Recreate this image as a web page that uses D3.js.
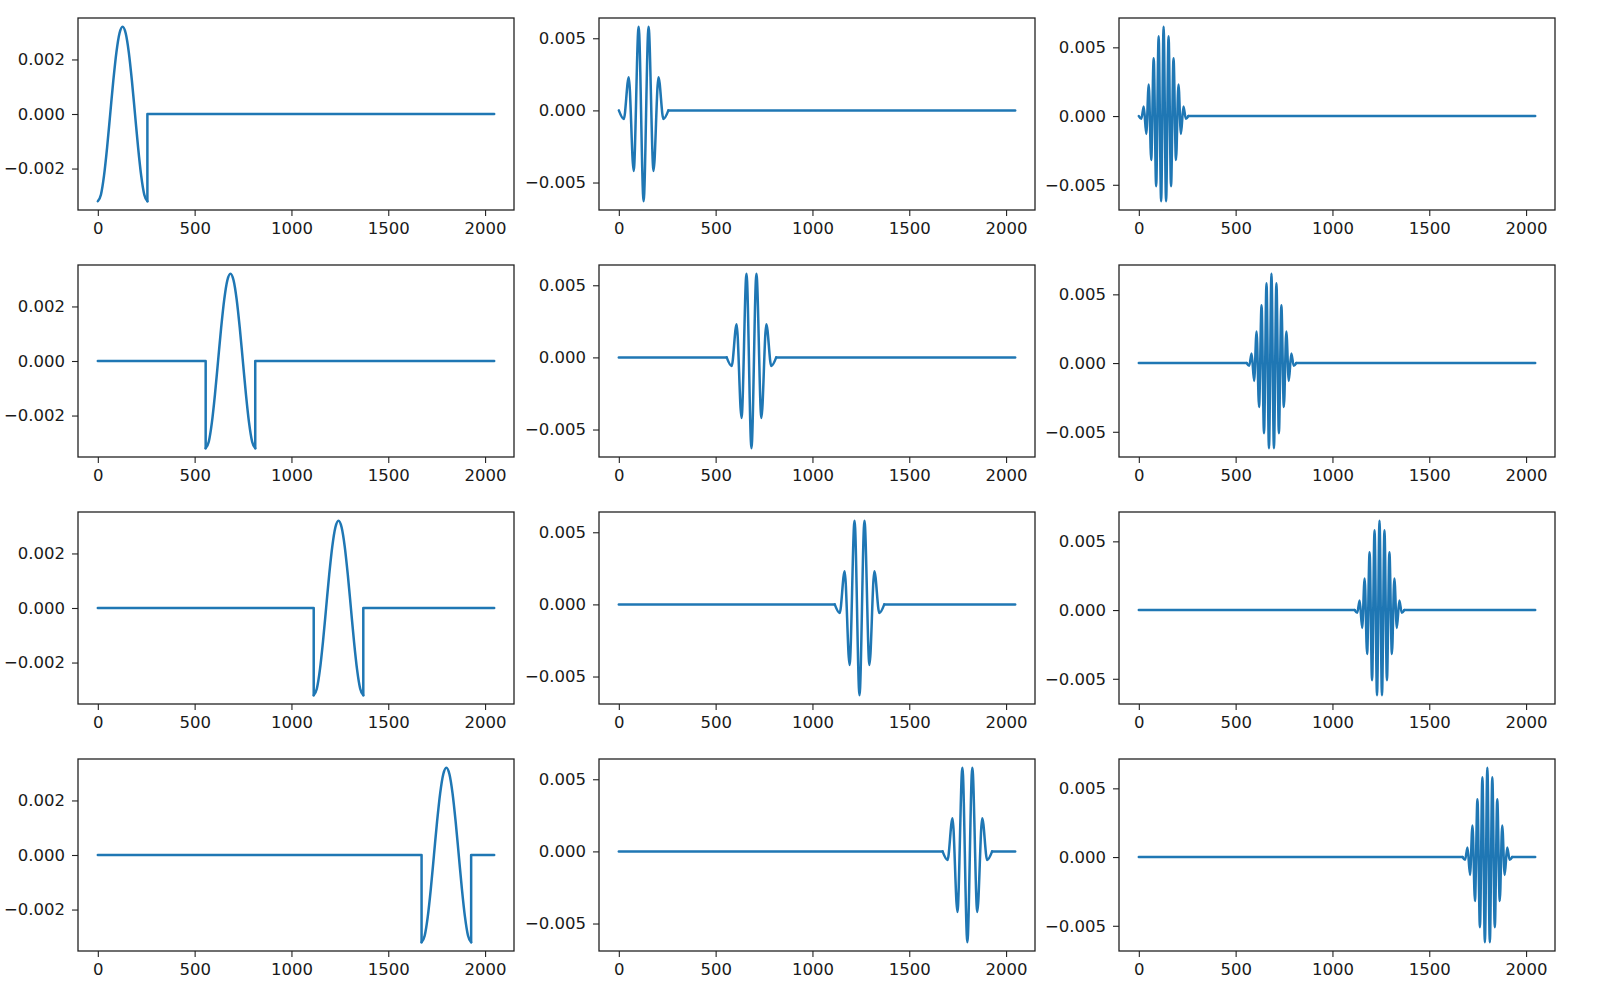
<!DOCTYPE html>
<html>
<head>
<meta charset="utf-8">
<script src="https://cdn.jsdelivr.net/npm/d3@7"></script>
<style>
  html, body { margin: 0; padding: 0; background: #ffffff; }
  svg { display: block; }
  .tick text { font-family: "DejaVu Sans", sans-serif; font-size: 16.5px; fill: #1a1a1a; }
  .tick line { stroke: #222222; stroke-width: 1.1px; }
</style>
</head>
<body>
<svg id="chart" width="1600" height="998"></svg>
<script>
// ---------------- DATA ----------------
const signalFirstIndex = 0;
const signalLastIndex = 2047;
const xTickValues = [0, 500, 1000, 1500, 2000];

// start sample of the pulse / wave packet in each row
const pulseStarts = [0, 557, 1115, 1672];

// column 1: one cosine period (offset within the pulse, value)
const col1Offsets = [0, 16, 32, 48, 64, 80, 96, 112, 128, 144, 160, 176, 192, 208, 224, 240, 256];
const col1Values  = [-0.0032, -0.00296, -0.00226, -0.00122, 0, 0.00122, 0.00226, 0.00296, 0.0032,
                     0.00296, 0.00226, 0.00122, 0, -0.00122, -0.00226, -0.00296, -0.0032];

// column 2: windowed wave packet, extrema
const col2Offsets = [0, 25.6, 51.2, 76.8, 102.4, 128, 153.6, 179.2, 204.8, 230.4, 256];
const col2Values  = [0, -0.0006, 0.0023, -0.0042, 0.0058, -0.0063, 0.0058, -0.0042, 0.0023, -0.0006, 0];

// column 3: faster windowed wave packet, extrema
const col3Offsets = [0, 12.8, 25.6, 38.4, 51.2, 64, 76.8, 89.6, 102.4, 115.2, 128,
                     140.8, 153.6, 166.4, 179.2, 192, 204.8, 217.6, 230.4, 243.2, 256];
const col3Values  = [0, -0.0002, 0.0007, -0.0013, 0.0023, -0.0032, 0.0042, -0.0051, 0.0058, -0.0062, 0.0065,
                     -0.0062, 0.0058, -0.0051, 0.0042, -0.0032, 0.0023, -0.0013, 0.0007, -0.0002, 0];

const col1YTicks = [-0.002, 0, 0.002];
const col23YTicks = [-0.005, 0, 0.005];

// ---------------- LAYOUT ----------------
const colLefts = [78, 599, 1119];
const rowTops = [18, 265, 512, 759];
const panelW = 436;
const panelH = 192;
const lineColor = "#1f77b4";

const columns = [
  { offsets: col1Offsets, values: col1Values, yTicks: col1YTicks },
  { offsets: col2Offsets, values: col2Values, yTicks: col23YTicks },
  { offsets: col3Offsets, values: col3Values, yTicks: col23YTicks }
];

const svg = d3.select("#chart");

function paddedDomain(lo, hi) {
  const pad = (hi - lo) * 0.05;
  return [lo - pad, hi + pad];
}

const xScale = d3.scaleLinear()
  .domain(paddedDomain(signalFirstIndex, signalLastIndex))
  .range([0, panelW]);

rowTops.forEach((top, r) => {
  columns.forEach((col, c) => {
    const g = svg.append("g").attr("transform", `translate(${colLefts[c]},${top})`);
    const yExt = d3.extent(col.values);
    const yScale = d3.scaleLinear().domain(paddedDomain(yExt[0], yExt[1])).range([panelH, 0]);

    const start = pulseStarts[r];
    const pulse = col.offsets.map((o, i) => [start + o, col.values[i]]);
    const end = pulse[pulse.length - 1][0];
    const before = start > signalFirstIndex
      ? [[signalFirstIndex, 0], [start, 0], [start, pulse[0][1]]] : [];
    const after = [[end, pulse[pulse.length - 1][1]], [end, 0], [signalLastIndex, 0]];

    const linLine = d3.line().x(d => xScale(d[0])).y(d => yScale(d[1]));
    const curveLine = d3.line().x(d => xScale(d[0])).y(d => yScale(d[1])).curve(d3.curveMonotoneX);

    const lg = g.append("g")
      .attr("fill", "none")
      .attr("stroke", lineColor)
      .attr("stroke-width", 2.5)
      .attr("stroke-linejoin", "round")
      .attr("stroke-linecap", "round");
    if (before.length) lg.append("path").attr("d", linLine(before));
    lg.append("path").attr("d", curveLine(pulse));
    lg.append("path").attr("d", linLine(after));

    // axes
    const xAxis = d3.axisBottom(xScale).tickValues(xTickValues)
      .tickSize(6).tickPadding(6.5).tickFormat(d3.format("d"));
    const gx = g.append("g").attr("transform", `translate(0,${panelH})`).call(xAxis);
    gx.select(".domain").remove();

    const yAxis = d3.axisLeft(yScale).tickValues(col.yTicks)
      .tickSize(6).tickPadding(7).tickFormat(d3.format(".3f"));
    const gy = g.append("g").call(yAxis);
    gy.select(".domain").remove();

    // frame
    g.append("rect")
      .attr("x", 0).attr("y", 0)
      .attr("width", panelW).attr("height", panelH)
      .attr("fill", "none")
      .attr("stroke", "#222222")
      .attr("stroke-width", 1.3);
  });
});
</script>
</body>
</html>
